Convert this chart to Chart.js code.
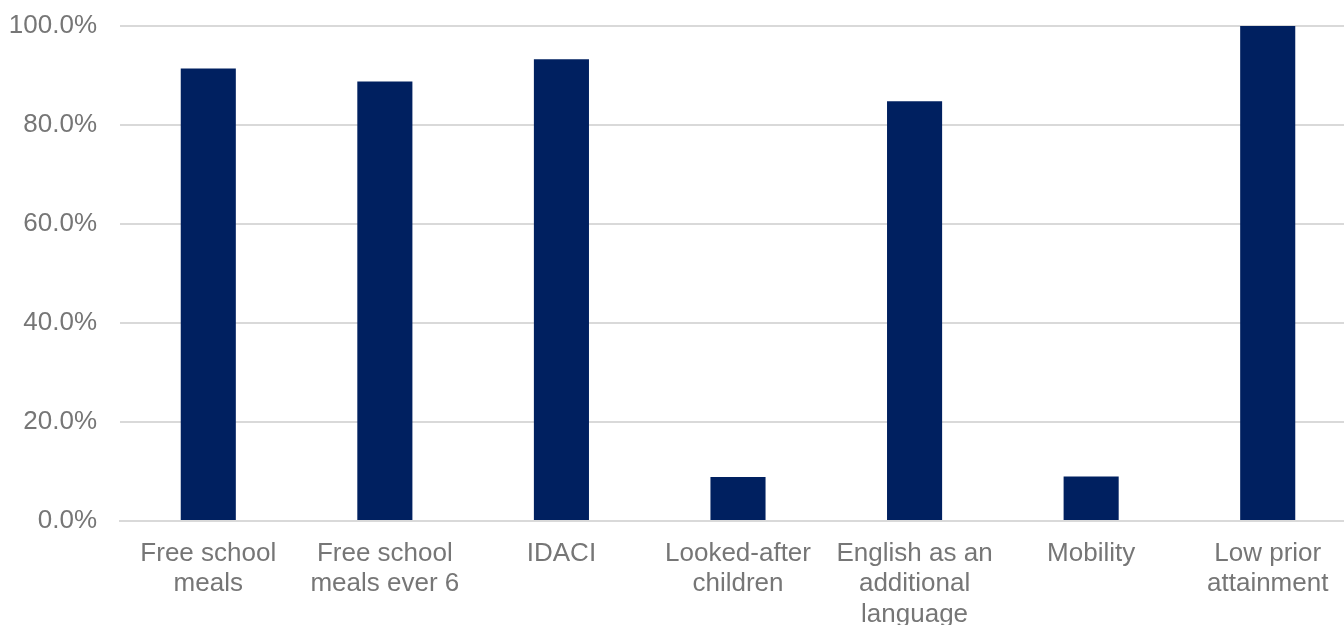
<!DOCTYPE html>
<html>
<head>
<meta charset="utf-8">
<script src="https://cdn.jsdelivr.net/npm/chart.js@4"></script>
<style>
html, body { margin: 0; padding: 0; background: #fff; overflow: hidden; }
#wrap { width: 1356px; height: 625px; }
</style>
</head>
<body>
<div id="wrap"><canvas id="chart" width="1356" height="625"></canvas></div>
<script>
// Chart data
const categories = [
  ['Free school', 'meals'],
  ['Free school', 'meals ever 6'],
  'IDACI',
  ['Looked-after', 'children'],
  ['English as an', 'additional', 'language'],
  'Mobility',
  ['Low prior', 'attainment']
];
const percentages = [91.4, 88.8, 93.3, 8.9, 84.8, 9.0, 100.0];
const yTicks = [0, 20, 40, 60, 80, 100];

const labelColor = '#767676';
const font = { family: '"Liberation Sans", Arial, sans-serif', size: 26, lineHeight: 1.18 };

// plot area runs a little past the right edge of the window, like the original crop
new Chart(document.getElementById('chart'), {
  type: 'bar',
  data: {
    labels: categories,
    datasets: [{
      data: percentages,
      backgroundColor: '#002060',
      borderWidth: 0,
      barPercentage: 0.312,
      categoryPercentage: 1
    }]
  },
  options: {
    responsive: false,
    animation: false,
    layout: { padding: { top: 26, right: 0, left: 0, bottom: 0 } },
    plugins: { legend: { display: false }, tooltip: { enabled: false } },
    scales: {
      x: {
        grid: { display: false, drawTicks: false },
        border: { display: true, color: '#d9d9d9', width: 2 },
        ticks: { color: labelColor, font: font, padding: 17, maxRotation: 0, autoSkip: false },
        afterFit: axis => { axis.height = 104; }
      },
      y: {
        min: 0,
        max: 100,
        afterBuildTicks: axis => { axis.ticks = yTicks.map(v => ({ value: v })); },
        grid: { color: '#d9d9d9', lineWidth: 2, drawTicks: false },
        border: { display: false },
        ticks: {
          color: labelColor,
          font: font,
          padding: 23,
          callback: v => v.toFixed(1) + '%'
        },
        afterFit: axis => {
          axis.width = 120;
          axis.paddingTop = 0;
          axis.paddingBottom = 0;
        }
      }
    }
  }
});
</script>
</body>
</html>
